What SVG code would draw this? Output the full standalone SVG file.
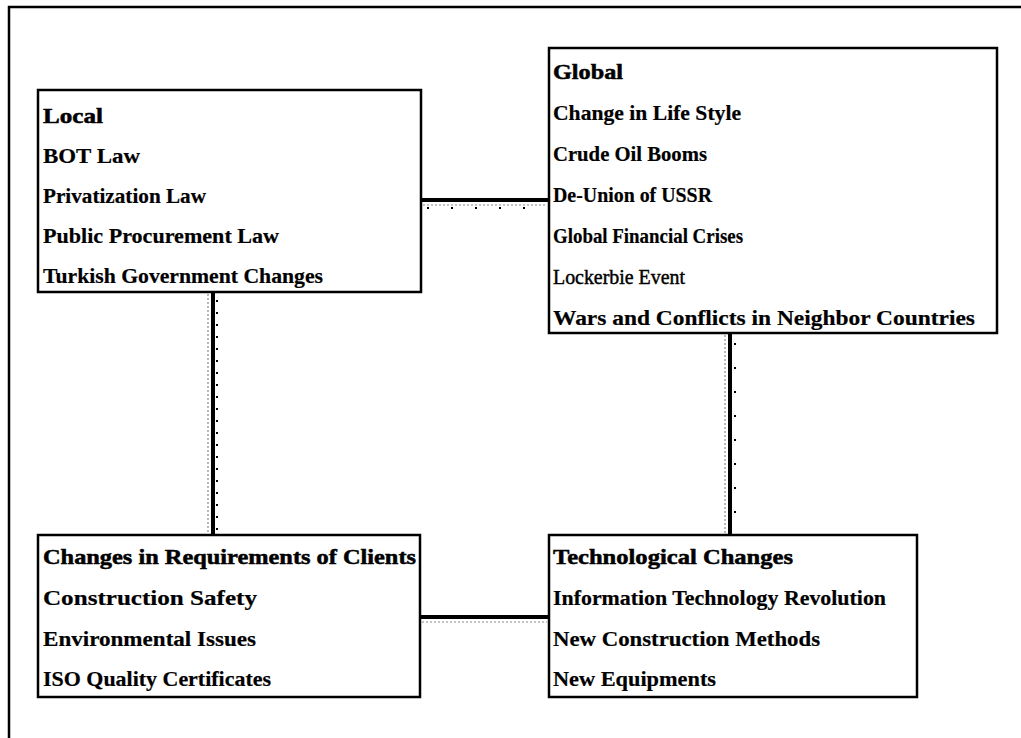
<svg xmlns="http://www.w3.org/2000/svg" width="1021" height="738" viewBox="0 0 1021 738">
  <style>
    .frame { fill: none; stroke: #000; stroke-width: 2.5; }
    .box { fill: #fff; stroke: #000; stroke-width: 2.5; }
    .link { stroke: #000; stroke-width: 4; fill: none; }
    .shade { stroke: #8a8a8a; stroke-width: 1.2; stroke-dasharray: 2 2; fill: none; }
    .dots { stroke: #000; stroke-width: 2; stroke-dasharray: 2 22; fill: none; }
    text { font-family: "Liberation Serif", "Times New Roman", serif; font-size: 21px; font-weight: bold; fill: #000; stroke: #000; stroke-width: 0.2; }
    text.head { stroke-width: 0.5; }
    text.plain { font-weight: normal; stroke-width: 0.45; }
  </style>
  <rect width="1021" height="738" fill="#fff"/>
  <!-- outer frame, open to the right and bottom -->
  <rect class="frame" x="9" y="7" width="1030" height="760"/>

  <g id="connectors">
    <!-- Local to Global -->
    <line class="link" x1="421" y1="200" x2="549" y2="200"/>
    <line class="shade" x1="423" y1="205" x2="547" y2="205"/>
    <line class="dots" x1="427" y1="208" x2="547" y2="208"/>
    <!-- Local to Clients -->
    <line class="link" x1="213" y1="292" x2="213" y2="535"/>
    <line class="shade" x1="208" y1="294" x2="208" y2="533"/>
    <line class="dots" x1="217" y1="300" x2="217" y2="533" style="stroke-dasharray:2 10"/>
    <!-- Global to Technological -->
    <line class="link" x1="730" y1="333" x2="730" y2="535"/>
    <line class="shade" x1="725" y1="335" x2="725" y2="533"/>
    <line class="dots" x1="735" y1="343" x2="735" y2="533"/>
    <!-- Clients to Technological -->
    <line class="link" x1="420" y1="617" x2="549" y2="617"/>
    <line class="shade" x1="422" y1="622" x2="547" y2="622"/>
  </g>

  <g id="local">
    <rect class="box" x="38" y="90" width="383" height="202"/>
    <text class="head" x="43" y="123" textLength="60" lengthAdjust="spacingAndGlyphs">Local</text>
    <text x="43" y="163" textLength="97" lengthAdjust="spacingAndGlyphs">BOT Law</text>
    <text x="43" y="203" textLength="163" lengthAdjust="spacingAndGlyphs">Privatization Law</text>
    <text x="43" y="243" textLength="236" lengthAdjust="spacingAndGlyphs">Public Procurement Law</text>
    <text x="43" y="283" textLength="280" lengthAdjust="spacingAndGlyphs">Turkish Government Changes</text>
  </g>

  <g id="global">
    <rect class="box" x="549" y="48" width="448" height="285"/>
    <text class="head" x="553" y="79" textLength="70" lengthAdjust="spacingAndGlyphs">Global</text>
    <text x="553" y="120" textLength="188" lengthAdjust="spacingAndGlyphs">Change in Life Style</text>
    <text x="553" y="161" textLength="154" lengthAdjust="spacingAndGlyphs">Crude Oil Booms</text>
    <text x="553" y="202" textLength="159" lengthAdjust="spacingAndGlyphs">De-Union of USSR</text>
    <text x="553" y="243" textLength="190" lengthAdjust="spacingAndGlyphs">Global Financial Crises</text>
    <text class="plain" x="553" y="284" textLength="132" lengthAdjust="spacingAndGlyphs">Lockerbie Event</text>
    <text x="553" y="325" textLength="422" lengthAdjust="spacingAndGlyphs">Wars and Conflicts in Neighbor Countries</text>
  </g>

  <g id="clients">
    <rect class="box" x="38" y="535" width="382" height="162"/>
    <text class="head" x="43" y="564" textLength="373" lengthAdjust="spacingAndGlyphs">Changes in Requirements of Clients</text>
    <text x="43" y="605" textLength="214" lengthAdjust="spacingAndGlyphs">Construction Safety</text>
    <text x="43" y="646" textLength="213" lengthAdjust="spacingAndGlyphs">Environmental Issues</text>
    <text x="43" y="686" textLength="228" lengthAdjust="spacingAndGlyphs">ISO Quality Certificates</text>
  </g>

  <g id="technological">
    <rect class="box" x="549" y="535" width="368" height="162"/>
    <text class="head" x="553" y="564" textLength="240" lengthAdjust="spacingAndGlyphs">Technological Changes</text>
    <text x="553" y="605" textLength="333" lengthAdjust="spacingAndGlyphs">Information Technology Revolution</text>
    <text x="553" y="646" textLength="267" lengthAdjust="spacingAndGlyphs">New Construction Methods</text>
    <text x="553" y="686" textLength="163" lengthAdjust="spacingAndGlyphs">New Equipments</text>
  </g>
</svg>
